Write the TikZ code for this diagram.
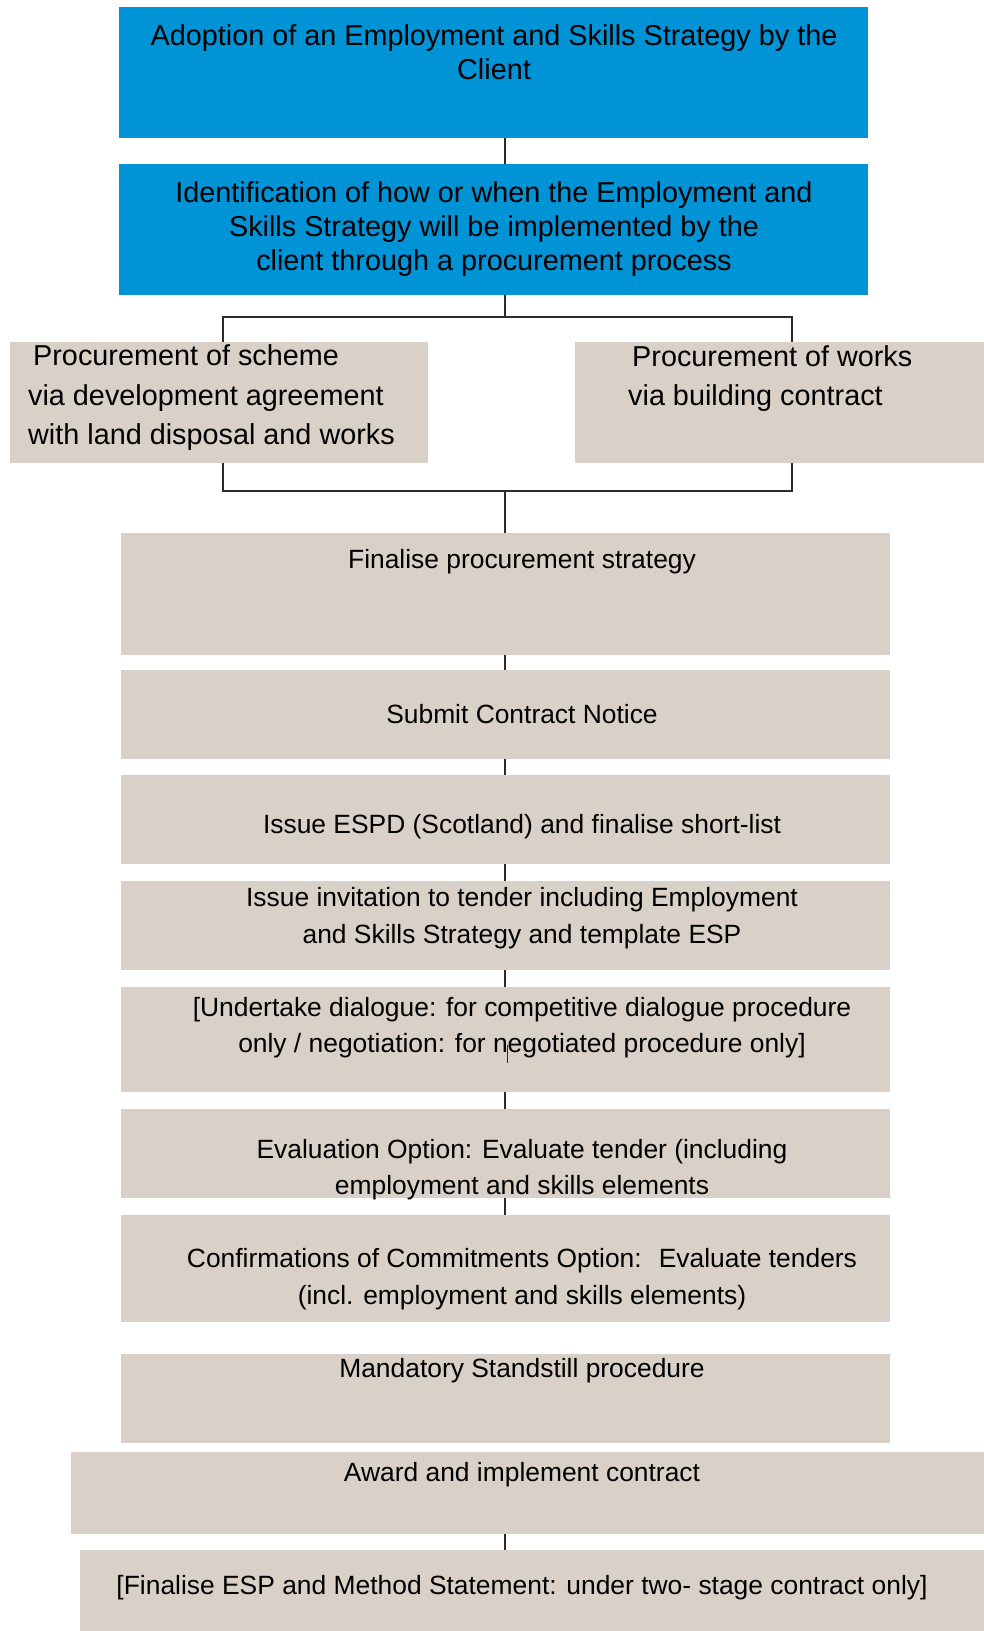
\documentclass[tikz,border=0pt]{standalone}
\usepackage{fontspec}
\setmainfont{Liberation Sans}
\usetikzlibrary{positioning}
\definecolor{cBlue}{HTML}{0093D6}
\definecolor{cSand}{HTML}{D9D1C7}
\definecolor{cLine}{HTML}{2B2B2B}

\begin{document}
\begin{tikzpicture}[
  x=1pt, y=-1pt,
  topbox/.style={
    fill=cBlue, inner sep=0pt, outer sep=0pt, anchor=north west
  },
  greybox/.style={
    fill=cSand, inner sep=0pt, outer sep=0pt, anchor=north west
  },
  toptext/.style={
    align=center, inner sep=0pt, font=\fontsize{28.8}{34.2}\selectfont
  },
  sidetext/.style={
    align=left, inner sep=0pt, anchor=west,
    font=\fontsize{28.8}{39.5}\selectfont
  },
  steptext/.style={
    align=center, inner sep=0pt, font=\fontsize{26.4}{36.4}\selectfont
  },
  link/.style={draw=cLine, line width=2pt},
]
\useasboundingbox (0,0) rectangle (984,1631);

% blue boxes
\node[topbox, minimum width=749pt, minimum height=131pt] (adopt) at (119,7) {};
\node[topbox, minimum width=749pt, minimum height=131pt] (ident) at (119,164) {};
\node[toptext] (adoptT) at (494,52)
  {Adoption of an Employment and Skills Strategy by the\\Client};
\node[toptext] (identT) at (494,229)
  {Identification of how or when the Employment and\\Skills Strategy will be implemented by the\\client through a procurement process};

% the two procurement routes
\node[greybox, minimum width=418pt, minimum height=121pt] (dev) at (10,342) {};
\node[greybox, minimum width=409pt, minimum height=121pt] (works) at (575,342) {};
\node[sidetext] (devT) at (28,398)
  {\hspace{5pt}Procurement of scheme\\via development agreement\\with land disposal and works};
\node[sidetext] (worksT) at (628,378.5)
  {\hspace{4pt}Procurement of works\\via building contract};

% procurement steps
\node[greybox, minimum width=769pt, minimum height=122pt] (fin) at (121,533) {};
\node[greybox, minimum width=769pt, minimum height=89pt] (submit) at (121,670) {};
\node[greybox, minimum width=769pt, minimum height=89pt] (espd) at (121,775) {};
\node[greybox, minimum width=769pt, minimum height=89pt] (invite) at (121,881) {};
\node[greybox, minimum width=769pt, minimum height=105pt] (under) at (121,987) {};
\node[greybox, minimum width=769pt, minimum height=89pt] (evalopt) at (121,1109) {};
\node[greybox, minimum width=769pt, minimum height=107pt] (confirm) at (121,1215) {};
\node[greybox, minimum width=769pt, minimum height=89pt] (mand) at (121,1354) {};
\node[greybox, minimum width=913pt, minimum height=82pt] (award) at (71,1452) {};
\node[greybox, minimum width=904pt, minimum height=81pt] (final) at (80,1550) {};

\node[steptext] (finT) at (522,561.6) {Finalise procurement strategy};
\node[steptext] (submitT) at (522,714) {Submit Contract Notice};
\node[steptext] (espdT) at (522,826.8) {Issue ESPD (Scotland) and finalise short-list};
\node[steptext] (inviteT) at (522,918)
  {Issue invitation to tender including Employment\\and Skills Strategy and template ESP};
\node[steptext] (underT) at (522,1027.5)
  {[Undertake dialogue: for competitive dialogue procedure\\only / negotiation: for negotiated procedure only]};
\node[steptext] (evalT) at (522,1169.6)
  {Evaluation Option: Evaluate tender (including\\employment and skills elements};
\node[steptext] (confirmT) at (522,1279.3)
  {Confirmations of Commitments Option:~ Evaluate tenders\\(incl. employment and skills elements)};
\node[steptext] (mandT) at (522,1371) {Mandatory Standstill procedure};
\node[steptext] (awardT) at (522,1475) {Award and implement contract};
\node[steptext] (finalT) at (522,1588)
  {[Finalise ESP and Method Statement: under two- stage contract only]};

% connectors
\coordinate (spine) at (505,0);
\coordinate (forkL) at (223,317);
\coordinate (forkR) at (792,317);
\coordinate (joinL) at (223,491);
\coordinate (joinR) at (792,491);
\coordinate (stubA) at (507,1045);
\coordinate (stubB) at (507,1063);

\draw[link] (adopt.south -| spine) -- (ident.north -| spine);
\draw[link] (ident.south -| spine) -- (spine |- forkL);
\draw[link] (dev.north -| forkL) -- (forkL) -- (forkR) -- (works.north -| forkR);
\draw[link] (dev.south -| joinL) -- (joinL) -- (joinR) -- (works.south -| joinR);
\draw[link] (spine |- joinL) -- (fin.north -| spine);
\foreach \a/\b in {fin/submit, submit/espd, espd/invite, invite/under,
  under/evalopt, evalopt/confirm, award/final} {
  \draw[link] (\a.south -| spine) -- (\b.north -| spine);
}
\draw[draw=cLine, line width=1pt] (stubA) -- (stubB);

\end{tikzpicture}
\end{document}
